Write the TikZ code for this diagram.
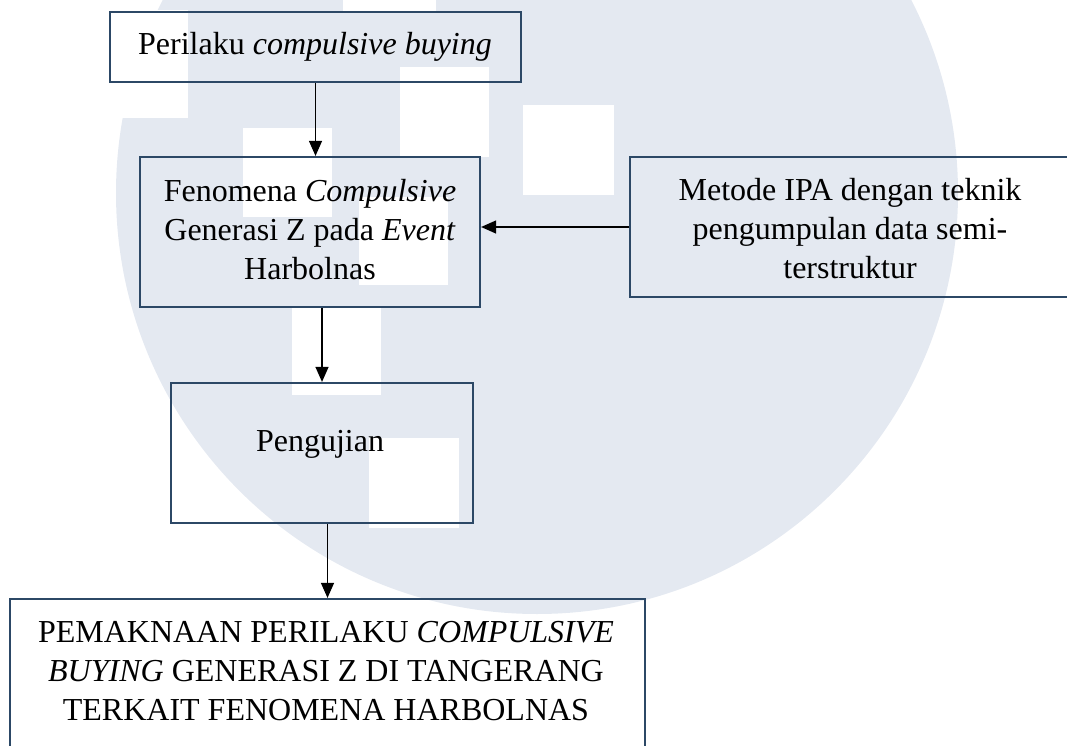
\documentclass[tikz,border=0pt]{standalone}
\usepackage{fontspec}
\setmainfont{Liberation Serif}
\usetikzlibrary{arrows.meta}
\definecolor{wm}{RGB}{228,233,241}
\definecolor{boxc}{RGB}{44,72,102}
\begin{document}
\begin{tikzpicture}[x=1pt,y=-1pt,
  box/.style={draw=boxc, line width=2.2pt, inner sep=0pt},
  txt/.style={font=\fontsize{32}{39}\selectfont, align=center, inner sep=0pt, text=black},
  arr/.style={-{Triangle[length=15pt,width=13pt]}, line width=1.2pt, draw=black}]
\useasboundingbox (0,0) rectangle (1067,746);
\begin{scope}
\clip (0,0) rectangle (1067,746);
% watermark
\fill[wm] (537,193) circle (421);
\fill[white] (95,10) rectangle (188,118);
\fill[white] (343,-2) rectangle (436,12);
\fill[white] (243,128) rectangle (332,217);
\fill[white] (400,67) rectangle (489,157);
\fill[white] (523,105) rectangle (614,195);
\fill[white] (359,197) rectangle (448,285);
\fill[white] (292,308) rectangle (381,395);
\fill[white] (369,438) rectangle (459,528);
% boxes
\node[box, minimum width=411pt, minimum height=70pt] (top) at (315.5,47) {};
\node[box, minimum width=340pt, minimum height=150pt] (fen) at (310,232) {};
\node[box, minimum width=440pt, minimum height=140pt] (ipa) at (850,227) {};
\node[box, minimum width=302pt, minimum height=140pt] (peng) at (322,453) {};
\node[box, minimum width=635pt, minimum height=181pt] (bot) at (327.5,689.5) {};
% texts
\node[txt] (ttop) at (315,46.5) {Perilaku \textit{compulsive buying}};
\node[txt] (tfen) at (310,229.5) {Fenomena \textit{Compulsive}\\Generasi Z pada \textit{Event}\\Harbolnas};
\node[txt] (tipa) at (850,228.5) {Metode IPA dengan teknik\\pengumpulan data semi-\\terstruktur};
\node[txt] (tpeng) at (320,444.5) {Pengujian};
\node[txt] (tbot) at (326,671) {PEMAKNAAN PERILAKU \textit{COMPULSIVE}\\\textit{BUYING} GENERASI Z DI TANGERANG\\TERKAIT FENOMENA HARBOLNAS};
% connectors
\draw[arr] (top.south) -- (top.south |- fen.north);
\draw[arr] (peng.north |- fen.south) -- (peng.north);
\draw[arr] (ipa.west) -- (ipa.west -| fen.east);
\draw[arr] (bot.north |- peng.south) -- (bot.north);
\end{scope}
\end{tikzpicture}
\end{document}
